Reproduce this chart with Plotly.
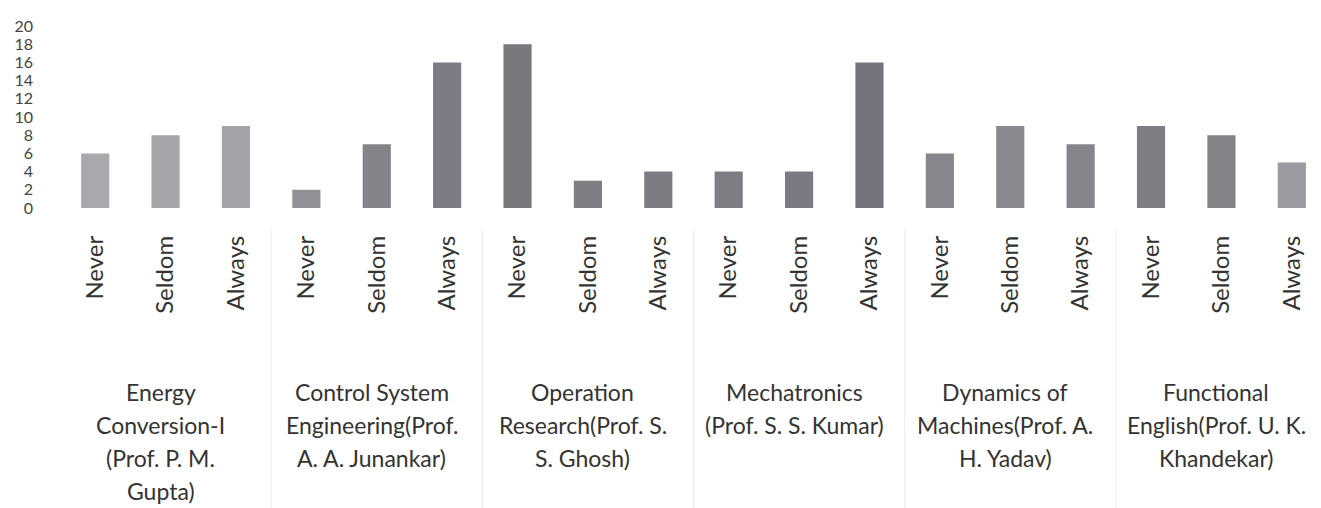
import plotly.graph_objects as go

subjects = [
    ["Energy", "Conversion-I", "(Prof. P. M.", "Gupta)"],
    ["Control System", "Engineering(Prof.", "A. A. Junankar)"],
    ["Operation", "Research(Prof. S.", "S. Ghosh)"],
    ["Mechatronics", "(Prof. S. S. Kumar)"],
    ["Dynamics of", "Machines(Prof. A.", "H. Yadav)"],
    ["Functional", "English(Prof. U. K.", "Khandekar)"],
]
responses = ["Never", "Seldom", "Always"]

energy = [6, 8, 9]
control = [2, 7, 16]
operation = [18, 3, 4]
mechatronics = [4, 4, 16]
dynamics = [6, 9, 7]
functional = [9, 8, 5]

values = energy + control + operation + mechatronics + dynamics + functional
categories = [f"{i}-{r}" for i in range(len(subjects)) for r in responses]
inner = responses * len(subjects)

bar_colors = [
    "#a9a9ad", "#a5a5aa", "#a3a3a8",
    "#909096", "#83838a", "#7b7b83",
    "#78787f", "#7e7e85", "#7c7c83",
    "#7d7d84", "#7a7a82", "#74747c",
    "#86868c", "#88888e", "#85858c",
    "#7e7e85", "#838389", "#9a9aa0",
]

FONT = "Lato, Open Sans, sans-serif"
TOP, BOTTOM, H = 18, 200, 508
plot_h = BOTTOM - TOP

fig = go.Figure(
    go.Bar(
        x=categories,
        y=values,
        marker=dict(color=bar_colors, line=dict(width=0)),
    )
)

# group labels under the response labels
for gi, lines in enumerate(subjects):
    for li, text in enumerate(lines):
        fig.add_annotation(
            x=f"{gi}-Seldom", xref="x",
            y=0, yref="paper",
            yanchor="middle", xanchor="center",
            xshift=-5,
            yshift=-(384 + 33 * li - BOTTOM),
            text=text, showarrow=False,
            font=dict(family=FONT, size=23, color="#333333"),
        )

# faint dividers between groups
for gi in range(1, len(subjects)):
    xpos = gi * len(responses) - 0.5
    fig.add_shape(
        type="line", xref="x", yref="paper",
        x0=xpos, x1=xpos,
        y0=(BOTTOM - 222) / plot_h, y1=(BOTTOM - 505) / plot_h,
        line=dict(color="#ebebeb", width=1),
    )

fig.update_layout(
    width=1321,
    height=H,
    margin=dict(l=52, r=2, t=TOP, b=H - BOTTOM),
    paper_bgcolor="white",
    plot_bgcolor="white",
    bargap=0.6,
    showlegend=False,
    font=dict(family=FONT, color="#333333", size=19),
)
fig.update_xaxes(
    type="category",
    tickvals=categories,
    ticktext=inner,
    tickangle=-90,
    showgrid=False,
    showline=False,
    zeroline=False,
    ticks="",
    ticklabelstandoff=22,
    automargin=False,
    tickfont=dict(family=FONT, size=24, color="#333333"),
)
fig.update_yaxes(
    range=[0, 20],
    dtick=2,
    showgrid=False,
    showline=False,
    zeroline=False,
    ticks="",
    ticklabelstandoff=26,
    automargin=False,
    tickfont=dict(family=FONT, size=16, color="#444444"),
)

fig.write_html("out.html")
